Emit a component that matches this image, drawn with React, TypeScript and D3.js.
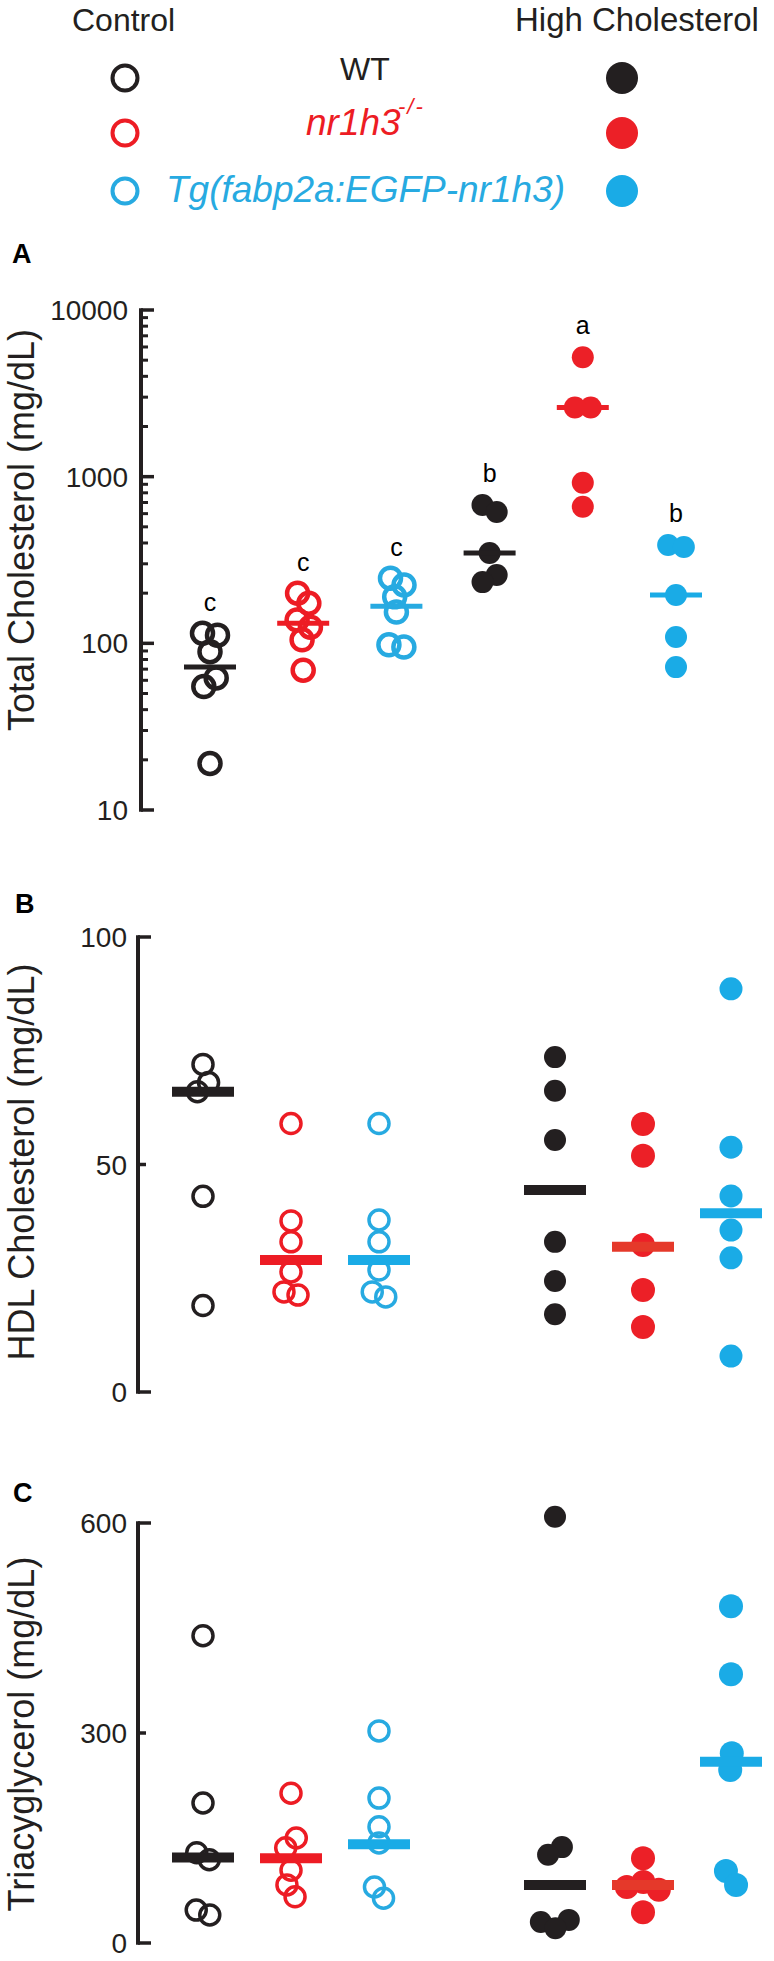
import React from 'react';
import * as d3 from 'd3';

const FONT = "Arial, 'Liberation Sans', Helvetica, sans-serif";

// ---------- data ----------
const groupIds = ['WT-Ctrl', 'nr1h3-Ctrl', 'Tg-Ctrl', 'gap', 'WT-HC', 'nr1h3-HC', 'Tg-HC'];
const groupOrder = ['WT-Ctrl', 'nr1h3-Ctrl', 'Tg-Ctrl', 'WT-HC', 'nr1h3-HC', 'Tg-HC'];
const groupGenotype = [0, 1, 2, 0, 1, 2];
const groupFilled = [false, false, false, true, true, true];

const totalValues = [
  [115, 112, 89, 62, 55, 19],
  [200, 174, 138, 125, 105, 69],
  [246, 224, 190, 154, 98, 95],
  [676, 614, 348, 257, 233],
  [5200, 2600, 2600, 920, 660],
  [389, 378, 195, 109, 72],
];
const totalCenters = [72, 132, 167, 348, 2600, 195];
const totalLetters = ['c', 'c', 'c', 'b', 'a', 'b'];
const totalTicks = [10, 100, 1000, 10000];

const hdlValues = [
  [72, 68, 66, 43, 19],
  [59, 37.6, 33, 26.4, 22, 21.3],
  [59, 37.8, 33, 26.8, 22, 20.9],
  [73.6, 66.2, 55.4, 33, 24.4, 17.1],
  [58.9, 51.9, 32.3, 22.4, 14.3],
  [88.6, 53.8, 43.1, 35.6, 29.5, 7.9],
];
const hdlCenters = [66, 29, 29, 44.4, 31.9, 39.3];
const hdlTicks = [0, 50, 100];

const tagValues = [
  [439, 200, 129, 119, 47, 40],
  [214, 150, 136, 104, 83, 66],
  [303, 207, 166, 143, 80, 64],
  [609, 137, 126, 33, 30, 21],
  [121, 87, 80, 76, 44],
  [481, 384, 271, 247, 103, 83],
];
const tagCenters = [122, 121, 141, 83, 83, 259];
const tagTicks = [0, 300, 600];

const legendGenotypes = ['WT', 'nr1h3', 'Tg(fabp2a:EGFP-nr1h3)'];
const legendHeaders = ['Control', 'High Cholesterol'];

// ---------- styles ----------
const openColors = ['#231f20', '#ed1c24', '#27aae1'];
const filledColors = ['#231f20', '#ec2027', '#1aabe6'];
const lineColorsA = ['#231f20', '#ed1c24', '#27aae1', '#231f20', '#ec2027', '#1aabe6'];
const lineColorsBC = ['#231f20', '#ed1c24', '#1aabe6', '#231f20', '#e5392a', '#1aabe6'];

type Node = { x: number; y: number; fy: number; v: number };

function swarm(vals: number[], cx: number, y: (v: number) => number, rc: number): Node[] {
  const nodes: Node[] = vals.map((v, i) => ({
    x: cx + (i % 2 === 0 ? -1 : 1) * 0.4 * (i + 1),
    y: y(v),
    fy: y(v),
    v,
  }));
  const sim = d3
    .forceSimulation(nodes as any)
    .force('x', d3.forceX(cx).strength(0.15))
    .force('collide', d3.forceCollide(rc).iterations(4))
    .stop();
  for (let i = 0; i < 300; i++) sim.tick();
  return nodes;
}

type PanelProps = {
  label: string;
  labelX: number;
  labelY: number;
  title: string;
  titleY: number;
  yScale: any;
  ticks: number[];
  minor: number[];
  longMinor: boolean;
  axisX: number;
  tickLabelX: number;
  values: number[][];
  centers: number[];
  lineColors: string[];
  xScale: any;
  openR: number;
  openStroke: number;
  filledR: number[];
  lineHalf: number;
  lineWidth: number;
  letters?: string[];
  fmt: (v: number) => string;
};

function Panel(p: PanelProps) {
  const [y0, y1] = p.yScale.range();
  const top = Math.min(y0, y1);
  const bottom = Math.max(y0, y1);
  const ends = [p.ticks[0], p.ticks[p.ticks.length - 1]];
  return (
    <g>
      <text x={p.labelX} y={p.labelY} fontFamily={FONT} fontWeight="bold" fontSize={27} fill="#000">
        {p.label}
      </text>
      <text
        transform={`translate(34,${p.titleY}) rotate(-90)`}
        textAnchor="middle"
        fontFamily={FONT}
        fontSize={36}
        fill="#231f20"
      >
        {p.title}
      </text>
      {/* axis */}
      <line x1={p.axisX} x2={p.axisX} y1={top - 1.75} y2={bottom + 1.75} stroke="#231f20" strokeWidth={4} />
      {p.ticks.map((t) => {
        const long = p.longMinor || ends.includes(t);
        return (
          <g key={'t' + t}>
            <line
              x1={p.axisX}
              x2={p.axisX + (long ? 13 : 8)}
              y1={p.yScale(t)}
              y2={p.yScale(t)}
              stroke="#231f20"
              strokeWidth={3.5}
            />
            <text
              x={p.tickLabelX}
              y={p.yScale(t) + 10}
              textAnchor="end"
              fontFamily={FONT}
              fontSize={28}
              fill="#231f20"
            >
              {p.fmt(t)}
            </text>
          </g>
        );
      })}
      {p.minor.map((t) => (
        <line
          key={'m' + t}
          x1={p.axisX}
          x2={p.axisX + 7}
          y1={p.yScale(t)}
          y2={p.yScale(t)}
          stroke="#231f20"
          strokeWidth={3}
        />
      ))}
      {/* points */}
      {groupOrder.map((g, gi) => {
        const cx = p.xScale(g);
        const filled = groupFilled[gi];
        const geno = groupGenotype[gi];
        const r = filled ? p.filledR[geno] : p.openR;
        const nodes = swarm(p.values[gi], cx, p.yScale, r * 0.72);
        return (
          <g key={g}>
            {nodes.map((n, i) =>
              filled ? (
                <circle key={i} cx={n.x} cy={n.fy} r={r} fill={filledColors[geno]} />
              ) : (
                <circle
                  key={i}
                  cx={n.x}
                  cy={n.fy}
                  r={r}
                  fill="none"
                  stroke={openColors[geno]}
                  strokeWidth={p.openStroke}
                />
              )
            )}
            <line
              x1={cx - p.lineHalf}
              x2={cx + p.lineHalf}
              y1={p.yScale(p.centers[gi])}
              y2={p.yScale(p.centers[gi])}
              stroke={p.lineColors[gi]}
              strokeWidth={p.lineWidth}
            />
            {p.letters && (
              <text
                x={cx}
                y={p.yScale(d3.max(p.values[gi]) as number) - r - 12}
                textAnchor="middle"
                fontFamily={FONT}
                fontSize={25}
                fill="#000"
              >
                {p.letters[gi]}
              </text>
            )}
          </g>
        );
      })}
    </g>
  );
}

export default function App() {
  const xA = d3.scalePoint<string>().domain(groupOrder).range([210, 676]);
  const xBC = d3.scalePoint<string>().domain(groupIds).range([203, 731]);

  const yA = d3.scaleLog().domain([10, 10000]).range([810, 310]);
  const yB = d3.scaleLinear().domain([0, 100]).range([1392, 937]);
  const yC = d3.scaleLinear().domain([0, 600]).range([1943, 1523]);

  const minorA: number[] = [];
  [10, 100, 1000].forEach((d) => {
    for (let k = 2; k <= 9; k++) minorA.push(d * k);
  });

  const legendRowsY = [78, 133, 191];

  return (
    <svg
      width={774}
      height={1961}
      style={{ position: 'absolute', left: 0, top: 0, display: 'block', background: '#fff' }}
    >
      <rect x={0} y={0} width={774} height={1961} fill="#fff" />
      {/* legend */}
      <text x={72} y={31} fontFamily={FONT} fontSize={32} fill="#231f20">
        {legendHeaders[0]}
      </text>
      <text x={515} y={31} fontFamily={FONT} fontSize={33} fill="#231f20">
        {legendHeaders[1]}
      </text>
      {legendRowsY.map((ly, i) => (
        <g key={i}>
          <circle cx={125} cy={ly} r={12.5} fill="none" stroke={openColors[i]} strokeWidth={4} />
          <circle cx={622} cy={ly} r={16} fill={filledColors[i]} />
        </g>
      ))}
      <text x={340} y={80} fontFamily={FONT} fontSize={32} fill="#231f20">
        {legendGenotypes[0]}
      </text>
      <text x={306} y={135} fontFamily={FONT} fontSize={37} fontStyle="italic" fill={openColors[1]}>
        {legendGenotypes[1]}
      </text>
      <text
        x={398}
        y={114}
        fontFamily={FONT}
        fontSize={22}
        fontStyle="italic"
        letterSpacing={2}
        fill={openColors[1]}
      >
        -/-
      </text>
      <text x={166} y={202} fontFamily={FONT} fontSize={37} fontStyle="italic" fill={openColors[2]}>
        {legendGenotypes[2]}
      </text>

      <Panel
        label="A"
        labelX={12}
        labelY={263}
        title="Total Cholesterol (mg/dL)"
        titleY={530}
        yScale={yA}
        ticks={totalTicks}
        minor={minorA}
        longMinor={true}
        axisX={141}
        tickLabelX={128}
        values={totalValues}
        centers={totalCenters}
        lineColors={lineColorsA}
        xScale={xA}
        openR={10.5}
        openStroke={4.5}
        filledR={[11, 11, 11]}
        lineHalf={26}
        lineWidth={5}
        letters={totalLetters}
        fmt={(v) => String(v)}
      />
      <Panel
        label="B"
        labelX={15}
        labelY={913}
        title="HDL Cholesterol (mg/dL)"
        titleY={1162}
        yScale={yB}
        ticks={hdlTicks}
        minor={[]}
        longMinor={false}
        axisX={138}
        tickLabelX={127}
        values={hdlValues}
        centers={hdlCenters}
        lineColors={lineColorsBC}
        xScale={xBC}
        openR={10}
        openStroke={3.5}
        filledR={[11, 12, 11.5]}
        lineHalf={31}
        lineWidth={10}
        fmt={(v) => String(v)}
      />
      <Panel
        label="C"
        labelX={13}
        labelY={1502}
        title="Triacyglycerol (mg/dL)"
        titleY={1734}
        yScale={yC}
        ticks={tagTicks}
        minor={[]}
        longMinor={false}
        axisX={138}
        tickLabelX={127}
        values={tagValues}
        centers={tagCenters}
        lineColors={lineColorsBC}
        xScale={xBC}
        openR={10}
        openStroke={3.5}
        filledR={[11, 12, 12]}
        lineHalf={31}
        lineWidth={10}
        fmt={(v) => String(v)}
      />
    </svg>
  );
}
